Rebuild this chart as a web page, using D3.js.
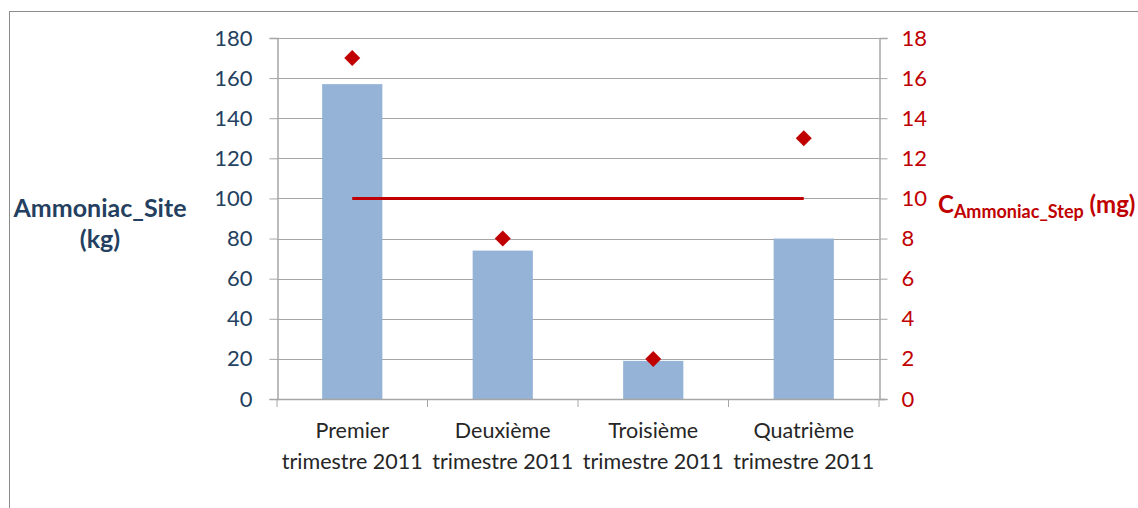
<!DOCTYPE html>
<html><head><meta charset="utf-8">
<script src="https://cdn.jsdelivr.net/npm/d3@7"></script>
<style>body{margin:0;background:#fff}svg{display:block}text{font-family:Lato,"Open Sans",sans-serif}</style>
</head><body><svg id="c" width="1138" height="508"></svg>
<script>
const categories = [["Premier","trimestre 2011"],["Deuxième","trimestre 2011"],["Troisième","trimestre 2011"],["Quatrième","trimestre 2011"]];
const siteKg = [157, 74, 19, 80];
const stepMg = [17, 8, 2, 13];
const limitMg = [10, 10, 10, 10];
const leftTicks = [0,20,40,60,80,100,120,140,160,180];
const rightTicks = [0,2,4,6,8,10,12,14,16,18];

const svg = d3.select("#c");
const navy = "#243F60", red = "#C00000", grid = "#A6A6A6";
// frame
svg.append("rect").attr("x",9.5).attr("y",11.5).attr("width",1140).attr("height",510).attr("fill","none").attr("stroke","#8c8c8c");

const x = d3.scaleBand().domain(d3.range(categories.length)).range([277,879]).paddingInner(0.6).paddingOuter(0.3);
const xc = i => x(i) + x.bandwidth()/2;
const yL = d3.scaleLinear().domain([0,180]).range([399,38]);
const yR = d3.scaleLinear().domain([0,18]).range([399,38]);

// gridlines
svg.append("g").selectAll("line").data(leftTicks.slice(1)).join("line")
  .attr("x1",277).attr("x2",879).attr("y1",d=>Math.round(yL(d))+0.5).attr("y2",d=>Math.round(yL(d))+0.5)
  .attr("stroke",grid).attr("stroke-width",1);

// bars
svg.append("g").selectAll("rect").data(siteKg).join("rect")
  .attr("x",(d,i)=>x(i)).attr("width",x.bandwidth())
  .attr("y",d=>yL(d)).attr("height",d=>yL(0)-yL(d)).attr("fill","#95B3D7");

// axes
const axL = svg.append("g").attr("transform","translate(277.5,0)")
  .call(d3.axisLeft(yL).tickValues(leftTicks).tickSize(8).tickPadding(17));
const axR = svg.append("g").attr("transform","translate(879.5,0)")
  .call(d3.axisRight(yR).tickValues(rightTicks).tickSize(8).tickPadding(14));
[axL,axR].forEach(a=>{a.select(".domain").attr("stroke",grid).attr("stroke-width",1.5);a.selectAll(".tick line").attr("stroke",grid);});
axL.selectAll("text").attr("fill",navy).attr("font-size",22);
axR.selectAll("text").attr("fill",red).attr("font-size",22);

// bottom axis
const bx = svg.append("g");
bx.append("line").attr("x1",277).attr("x2",885).attr("y1",399.5).attr("y2",399.5).attr("stroke",grid).attr("stroke-width",1.5);
const tickPos = d3.range(categories.length+1).map(i => 277 + i*(879-277)/categories.length);
bx.selectAll("line.t").data(tickPos).join("line").attr("class","t")
  .attr("x1",d=>d).attr("x2",d=>d).attr("y1",399).attr("y2",407).attr("stroke",grid);
const lab = bx.selectAll("text").data(categories).join("text")
  .attr("text-anchor","middle").attr("fill","#262626").attr("font-size",21.5);
lab.append("tspan").attr("x",(d,i)=>xc(i)).attr("y",438).text(d=>d[0]);
lab.append("tspan").attr("x",(d,i)=>xc(i)).attr("y",469).text(d=>d[1]);

// limit line
svg.append("path").datum(limitMg)
  .attr("d",d3.line().x((d,i)=>xc(i)).y(d=>yR(d)))
  .attr("fill","none").attr("stroke",red).attr("stroke-width",3);

// diamonds
svg.append("g").selectAll("path").data(stepMg).join("path")
  .attr("transform",(d,i)=>`translate(${xc(i)},${yR(d)})`)
  .attr("d","M0,-8L8,0L0,8L-8,0Z")
  .attr("fill",red);

// axis titles
const tl = svg.append("text").attr("text-anchor","middle").attr("fill",navy).attr("font-size",25).attr("font-weight","bold");
tl.append("tspan").attr("x",100).attr("y",217).text("Ammoniac_Site");
tl.append("tspan").attr("x",100).attr("y",248).text("(kg)");

const tr = svg.append("text").attr("x",938).attr("y",213).attr("fill",red).attr("font-weight","bold").attr("font-size",24);
tr.append("tspan").text("C");
tr.append("tspan").attr("font-size",18).attr("dy",5).text("Ammoniac_Step");
tr.append("tspan").attr("dy",-5).text(" (mg)");
</script></body></html>
